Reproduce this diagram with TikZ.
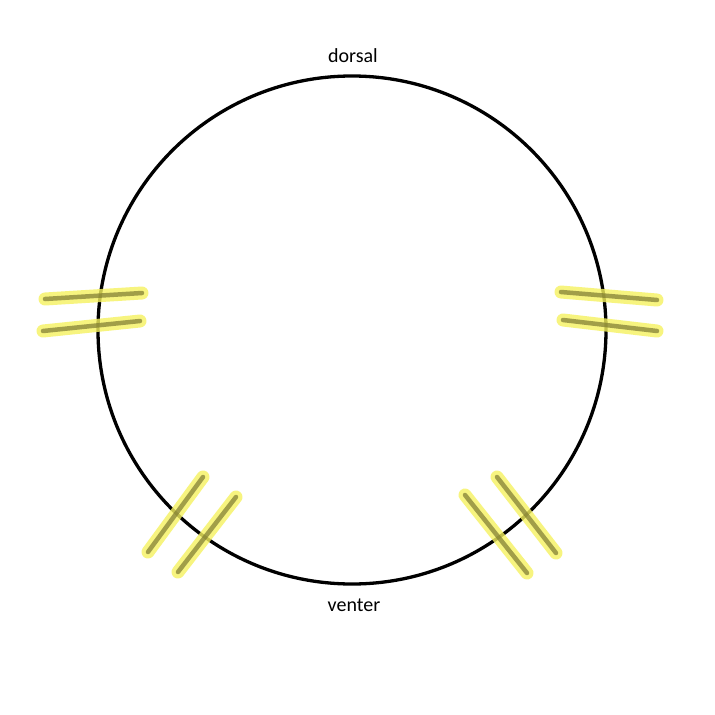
\documentclass[tikz,border=0pt]{standalone}
\usepackage{fontspec}
\setmainfont{Carlito}
\definecolor{glowc}{RGB}{245,242,95}
\definecolor{corec}{RGB}{125,122,50}
\tikzset{
  glow/.style={draw=glowc, line width=13pt, line cap=round, opacity=0.8},
  core/.style={draw=corec, line width=4.5pt, line cap=round, opacity=0.7},
  body/.style={draw=black, line width=3.3pt},
  lbl/.style={font=\fontsize{20}{22}\selectfont, inner sep=0pt, anchor=base}
}
\begin{document}
\begin{tikzpicture}[x=1pt,y=-1pt]
\useasboundingbox (0,0) rectangle (715,715);
\fill[white] (0,0) rectangle (715,715);
\coordinate (c) at (352,330);
\draw[body] (c) circle[radius=254];
\node[lbl] (dorsal) at (353,62.5) {dorsal};
\node[lbl] (venter) at (354,611.5) {venter};
% marks: pairs of endpoints
\coordinate (l1a) at (45,299);  \coordinate (l1b) at (142,293);
\coordinate (l2a) at (43,331);  \coordinate (l2b) at (140,321);
\coordinate (r1a) at (561,292); \coordinate (r1b) at (657,300);
\coordinate (r2a) at (563,320); \coordinate (r2b) at (657,331);
\coordinate (bl1a) at (203,477); \coordinate (bl1b) at (148,552);
\coordinate (bl2a) at (236,497); \coordinate (bl2b) at (178,572);
\coordinate (br1a) at (465,495); \coordinate (br1b) at (527,573);
\coordinate (br2a) at (497,477); \coordinate (br2b) at (556,553);
\foreach \m in {l1,l2,r1,r2,bl1,bl2,br1,br2}{
  \draw[glow] (\m a) -- (\m b);
}
\foreach \m in {l1,l2,r1,r2,bl1,bl2,br1,br2}{
  \draw[core] (\m a) -- (\m b);
}
\end{tikzpicture}
\end{document}
